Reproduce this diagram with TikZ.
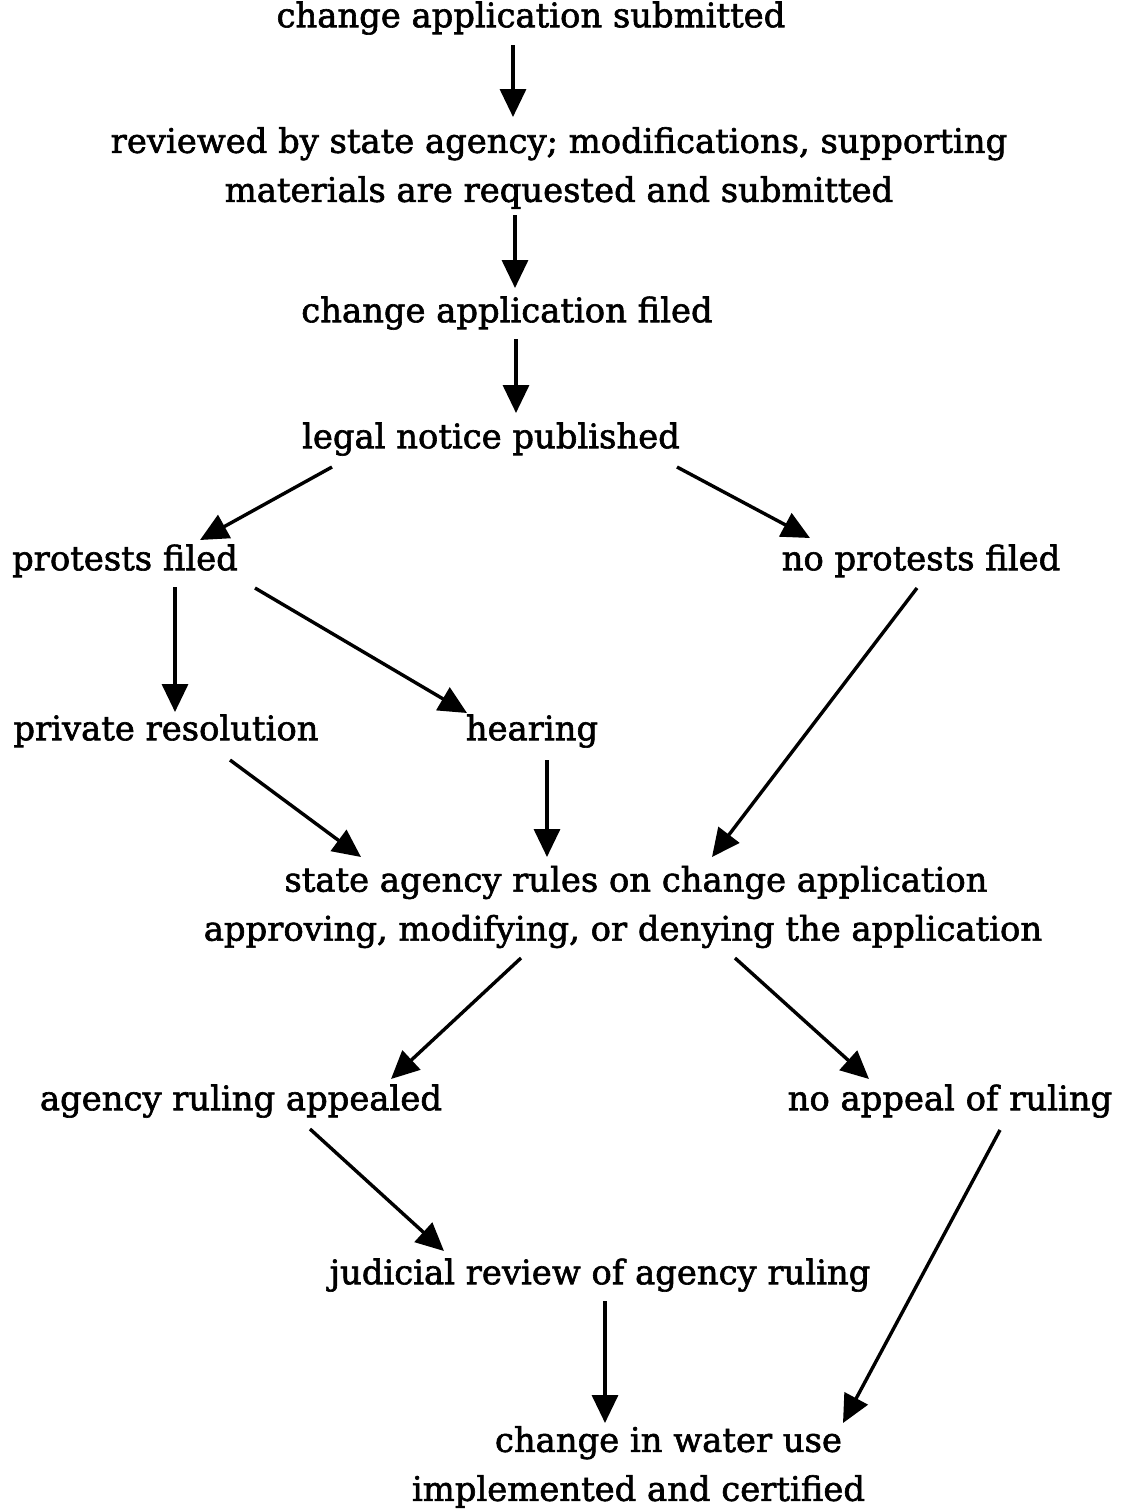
\documentclass[tikz,border=0pt]{standalone}
\usepackage{fontspec}
\setmainfont{DejaVu Serif}
\newfontfamily\lblfont{DejaVu Serif}[FakeBold=1.8]
\usetikzlibrary{arrows.meta}
\begin{document}
\begin{tikzpicture}[x=0.5pt,y=-0.5pt,
  lbl2/.style={inner sep=0pt, align=center, font=\lblfont\fontsize{16.9pt}{24.5pt}\selectfont},
  lbl/.style={lbl2, text height=0.74em, text depth=0.22em},
  arr/.style={line width=1.7pt, -{Triangle[length=14pt,width=13pt]}}]
\useasboundingbox (0,0) rectangle (1127,1511);
\node[lbl] (n1) at (531,22) {change application submitted};
\node[lbl2] (n2) at (559,168) {reviewed by state agency; modifications, supporting\\materials are requested and submitted};
\node[lbl] (n3) at (507,317) {change application filed};
\node[lbl] (n4) at (491,443) {legal notice published};
\node[lbl] (n5) at (125,565) {protests filed};
\node[lbl] (n6) at (921,565) {no protests filed};
\node[lbl] (n7) at (166,735) {private resolution};
\node[lbl] (n8) at (532,735) {hearing};
\node[lbl2] (n9) at (629.5,907) {\hspace*{6.5pt}state agency rules on change application\\approving, modifying, or denying the application\hspace*{6.5pt}};
\node[lbl] (n10) at (241,1105) {agency ruling appealed};
\node[lbl] (n11) at (950,1105) {no appeal of ruling};
\node[lbl] (n12) at (600,1279) {judicial review of agency ruling};
\node[lbl2] (n13) at (653.5,1467) {\hspace*{15pt}change in water use\\implemented and certified\hspace*{15pt}};

\draw[arr] ([shift={(-18,23)}]n1.center) -- ([shift={(-46,-51)}]n2.center);
\draw[arr] ([shift={(-44,47)}]n2.center) -- ([shift={(8,-29)}]n3.center);
\draw[arr] ([shift={(9,22)}]n3.center) -- ([shift={(25,-30)}]n4.center);
\draw[arr] ([shift={(-159,24)}]n4.center) -- ([shift={(75,-25)}]n5.center);
\draw[arr] ([shift={(186,24)}]n4.center) -- ([shift={(-111,-27)}]n6.center);
\draw[arr] ([shift={(50,22)}]n5.center) -- ([shift={(9,-23)}]n7.center);
\draw[arr] ([shift={(130,23)}]n5.center) -- ([shift={(-65,-22)}]n8.center);
\draw[arr] ([shift={(-4,23)}]n6.center) -- ([shift={(82.5,-50)}]n9.center);
\draw[arr] ([shift={(64,25)}]n7.center) -- ([shift={(-268.5,-50)}]n9.center);
\draw[arr] ([shift={(15,25)}]n8.center) -- ([shift={(-82.5,-50)}]n9.center);
\draw[arr] ([shift={(-108.5,51)}]n9.center) -- ([shift={(150,-26)}]n10.center);
\draw[arr] ([shift={(105.5,51)}]n9.center) -- ([shift={(-81,-26)}]n11.center);
\draw[arr] ([shift={(69,24)}]n10.center) -- ([shift={(-156,-28)}]n12.center);
\draw[arr] ([shift={(5,22)}]n12.center) -- ([shift={(-48.5,-44)}]n13.center);
\draw[arr] ([shift={(50,25)}]n11.center) -- ([shift={(189.5,-44)}]n13.center);
\end{tikzpicture}
\end{document}
